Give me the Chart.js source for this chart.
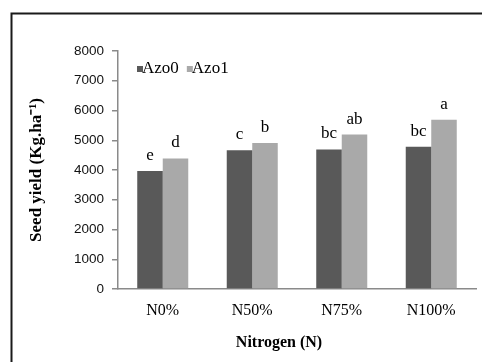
<!DOCTYPE html>
<html>
<head>
<meta charset="utf-8">
<script src="https://cdn.jsdelivr.net/npm/chart.js@4/dist/chart.umd.min.js"></script>
<style>
  html, body { margin: 0; padding: 0; background: #ffffff; }
  #wrap { width: 482px; height: 362px; position: relative; }
</style>
</head>
<body>
<div id="wrap"><canvas id="c" width="482" height="362"></canvas></div>
<script>
// Nitrogen levels on the x axis
const categories = ['N0%', 'N50%', 'N75%', 'N100%'];
// Seed yield (kg/ha) without and with Azotobacter
const azo0 = [3970, 4660, 4690, 4780];
const azo1 = [4390, 4910, 5190, 5690];
// Mean-separation letters written above each bar
const lettersAzo0 = ['e', 'c', 'bc', 'bc'];
const lettersAzo1 = ['d', 'b', 'ab', 'a'];
// Series names
const seriesNames = ['Azo0', 'Azo1'];
// Y axis tick values
const yTicks = [0, 1000, 2000, 3000, 4000, 5000, 6000, 7000, 8000];

const DARK = '#595959';
const LIGHT = '#a9a9a9';
const AXIS = '#8a8a8a';
const SERIF = '"Liberation Serif", "Times New Roman", serif';
const SANS = '"Liberation Sans", Arial, sans-serif';

const decorations = {
  id: 'decorations',
  beforeDraw(chart) {
    const ctx = chart.ctx;
    ctx.save();
    ctx.fillStyle = '#ffffff';
    ctx.fillRect(0, 0, chart.width, chart.height);
    ctx.restore();
  },
  afterDraw(chart) {
    const ctx = chart.ctx;
    ctx.save();

    // outer frame (open at right and bottom edges of the canvas)
    ctx.strokeStyle = '#1a1a1a';
    ctx.lineWidth = 2;
    ctx.strokeRect(11.5, 13.5, 520, 400);

    // significance letters above the bars
    const letterSets = [lettersAzo0, lettersAzo1];
    ctx.fillStyle = '#000';
    ctx.font = '17px ' + SERIF;
    ctx.textAlign = 'center';
    ctx.textBaseline = 'alphabetic';
    chart.data.datasets.forEach((ds, di) => {
      const meta = chart.getDatasetMeta(di);
      meta.data.forEach((bar, i) => {
        ctx.fillText(letterSets[di][i], bar.x, bar.y - 11);
      });
    });

    // legend
    const legendY = 69;
    let x = 137;
    ctx.font = '17px ' + SERIF;
    ctx.textAlign = 'left';
    ctx.textBaseline = 'middle';
    chart.data.datasets.forEach((ds) => {
      ctx.fillStyle = ds.backgroundColor;
      ctx.fillRect(x, legendY - 3, 6, 6);
      ctx.fillStyle = '#000';
      ctx.fillText(ds.label, x + 5, legendY);
      x += 5 + ctx.measureText(ds.label).width + 8;
    });

    // x axis title
    ctx.font = 'bold 16px ' + SERIF;
    ctx.textAlign = 'center';
    ctx.textBaseline = 'middle';
    ctx.fillStyle = '#000';
    ctx.fillText('Nitrogen (N)', 279, 343);

    ctx.restore();
  }
};

new Chart(document.getElementById('c'), {
  type: 'bar',
  data: {
    labels: categories,
    datasets: [
      { label: seriesNames[0], data: azo0, backgroundColor: DARK, barPercentage: 1, categoryPercentage: 0.57 },
      { label: seriesNames[1], data: azo1, backgroundColor: LIGHT, barPercentage: 1, categoryPercentage: 0.57 }
    ]
  },
  options: {
    responsive: false,
    animation: false,
    devicePixelRatio: 1,
    layout: { padding: { left: 0, top: 51, right: 6, bottom: 0 } },
    plugins: {
      legend: { display: false },
      tooltip: { enabled: false }
    },
    scales: {
      x: {
        grid: { display: true, drawOnChartArea: false, drawTicks: false },
        border: { display: true, color: AXIS, width: 1.5 },
        ticks: { font: { family: SERIF, size: 16 }, color: '#000', padding: 12 },
        afterFit(scale) { scale.height = 73; }
      },
      y: {
        min: yTicks[0],
        max: yTicks[yTicks.length - 1],
        afterBuildTicks(scale) { scale.ticks = yTicks.map(v => ({ value: v })); },
        ticks: { font: { family: SANS, size: 13.5 }, color: '#111', padding: 8, callback: v => String(v) },
        grid: { drawOnChartArea: false, drawTicks: true, tickLength: 6, color: AXIS, lineWidth: 1.5 },
        border: { display: true, color: AXIS, width: 1.5 },
        title: {
          display: true,
          text: 'Seed yield (Kg.ha⁻¹)',
          font: { family: SERIF, size: 17, weight: 'bold' },
          color: '#000',
          padding: { top: 26, bottom: 0 }
        },
        afterFit(scale) { scale.width = 118; }
      }
    }
  },
  plugins: [decorations]
});
</script>
</body>
</html>
